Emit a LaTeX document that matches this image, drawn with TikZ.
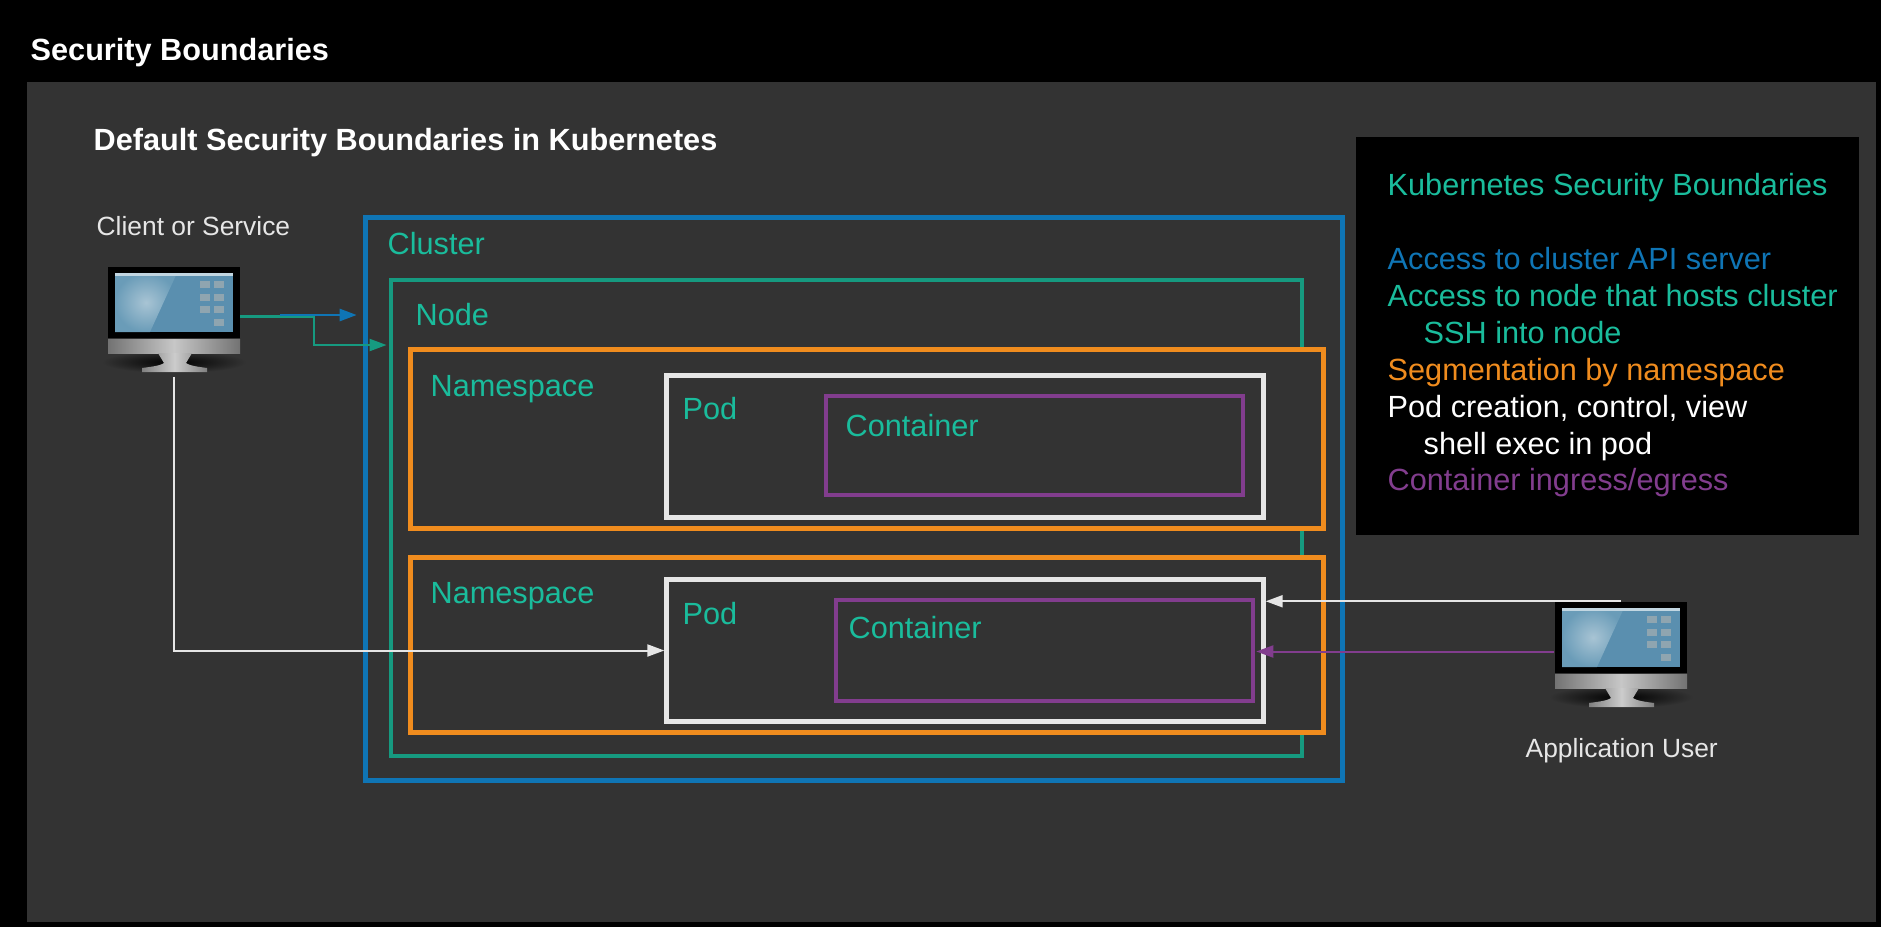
\documentclass[tikz,border=0pt]{standalone}
\usepackage{fontspec}
\setmainfont{Liberation Sans}
\usetikzlibrary{arrows.meta}
\definecolor{panelgray}{HTML}{333333}
\definecolor{clusterblue}{HTML}{0F75B5}
\definecolor{nodeteal}{HTML}{169A80}
\definecolor{labelteal}{HTML}{1ABC9C}
\definecolor{nsorange}{HTML}{F08C1E}
\definecolor{podwhite}{HTML}{E6E6E6}
\definecolor{ctrpurple}{HTML}{823D8E}
\definecolor{screenblue}{HTML}{5A8FAF}
\definecolor{screenedge}{HTML}{6A9CB8}
\definecolor{screenlight}{HTML}{A8C4D4}
\definecolor{iconkey}{HTML}{8FA5B0}
\tikzset{
    pics/monitor/.style={code={
        \shade[inner color=black, outer color=panelgray] (66,95) ellipse [x radius=72, y radius=11];
        \fill[black] (0,0) rectangle (132,71);
        \fill[screenblue] (7,6) rectangle (125,65);
        \shade[inner color=screenlight, outer color=screenedge] (7,6) -- (69,6) -- (42,65) -- (7,65) -- cycle;
        \fill[screenlight!70!white] (7,6) rectangle (125,9);
        \foreach \ky in {14,27,39,52} {
            \fill[iconkey] (106,\ky) rectangle (116,\ky+6.5);
        }
        \foreach \ky in {14,27,39} {
            \fill[iconkey] (92,\ky) rectangle (102,\ky+6.5);
        }
        \shade[left color=black!55, right color=black!55, middle color=black!22] (0,72) rectangle (132,86);
        \shade[left color=black!50, right color=black!50, middle color=black!20] (50,86) -- (84,86) -- (78,96) .. controls (82,99) and (92,100) .. (99,101) -- (99,105) -- (34,105) -- (34,101) .. controls (41,100) and (52,99) .. (56,96) -- cycle;
    }},
    boxnode/.style={rectangle, inner sep=0pt, line width=0.05cm},
    thinbox/.style={boxnode, line width=0.043cm},
    boxlabel/.style={anchor=base west, inner sep=0pt, text=labelteal, font=\fontsize{8.72}{10.5}\selectfont},
    whitelabel/.style={boxlabel, text=podwhite, font=\fontsize{7.5}{9}\selectfont},
    boldlabel/.style={anchor=base west, inner sep=0pt, text=white, font=\fontsize{8.72}{10.5}\selectfont\bfseries},
    hostnode/.style={rectangle, inner sep=0pt, minimum width=1.31cm},
    >={Triangle[length=0.17cm,width=0.12cm]},
}
\begin{document}
\begin{tikzpicture}[x=0.01cm,y=-0.01cm]
    \useasboundingbox (0,0) rectangle (1881,927);
    \fill[black] (0,0) rectangle (1881,927);
    \fill[panelgray] (27,82) rectangle (1876,922);

    % Titles
    \node[boldlabel] (pagetitle) at (30,60) {Security Boundaries};
    \node[boldlabel] (paneltitle) at (93,150) {Default Security Boundaries in Kubernetes};

    % Boxes
    \node[boxnode, draw=clusterblue, minimum width=9.76cm, minimum height=5.62cm] (cluster) at (854,499) {};
    \node[thinbox, draw=nodeteal, minimum width=9.11cm, minimum height=4.76cm] (nodebox) at (846.5,518) {};
    \node[boxnode, draw=nsorange, fill=panelgray, minimum width=9.12cm, minimum height=1.78cm] (ns1) at (867,439) {};
    \node[boxnode, draw=nsorange, fill=panelgray, minimum width=9.12cm, minimum height=1.74cm] (ns2) at (867,645) {};
    \node[boxnode, draw=podwhite, minimum width=5.96cm, minimum height=1.41cm] (pod1) at (965,446.5) {};
    \node[boxnode, draw=podwhite, minimum width=5.96cm, minimum height=1.41cm] (pod2) at (965,650.5) {};
    \node[thinbox, draw=ctrpurple, minimum width=4.17cm, minimum height=0.99cm] (ctr1) at (1034.5,445.5) {};
    \node[thinbox, draw=ctrpurple, minimum width=4.17cm, minimum height=1.01cm] (ctr2) at (1044.5,650.5) {};

    % Box labels
    \node[boxlabel] (clusterlabel) at (387,254) {Cluster};
    \node[boxlabel] (nodelabel) at (415,325) {Node};
    \node[boxlabel] (ns1label) at (430,396) {Namespace};
    \node[boxlabel] (ns2label) at (430,603) {Namespace};
    \node[boxlabel] (pod1label) at (682,419) {Pod};
    \node[boxlabel] (pod2label) at (682,624) {Pod};
    \node[boxlabel] (ctr1label) at (845,436) {Container};
    \node[boxlabel] (ctr2label) at (848,638) {Container};

    % Legend
    \fill[black] (1356,137) rectangle (1859,535);
    \node[boxlabel] (legtitle) at (1387,195) {Kubernetes Security Boundaries};
    \node[boxlabel, text=clusterblue] (legapi) at (1387,269) {Access to cluster API server};
    \node[boxlabel] (leghost) at (1387,306) {Access to node that hosts cluster};
    \node[boxlabel] (legssh) at (1423,343) {SSH into node};
    \node[boxlabel, text=nsorange] (legns) at (1387,380) {Segmentation by namespace};
    \node[boxlabel, text=white] (legpod) at (1387,417) {Pod creation, control, view};
    \node[boxlabel, text=white] (legshell) at (1423,454) {shell exec in pod};
    \node[boxlabel, text=ctrpurple] (legctr) at (1387,490) {Container ingress/egress};

    % Client and user
    \pic at (108,267) {monitor};
    \pic at (1555,602) {monitor};
    \node[hostnode, minimum height=0.99cm] (client) at (174,316.5) {};
    \node[hostnode, minimum height=0.99cm] (appuser) at (1620.5,651.5) {};
    \node[whitelabel] (clientlabel) at (96,235) {Client or Service};
    \node[whitelabel] (userlabel) at (1525,757) {Application User};

    % Client talks to node and cluster
    \coordinate (tealbend) at (314,345);
    \coordinate (bluestart) at (280,315);
    \draw[->, nodeteal, line width=0.022cm, shorten >=0.02cm] (client.east) -| (tealbend) -- (tealbend -| nodebox.west);
    \draw[->, clusterblue, line width=0.025cm, shorten >=0.065cm] (bluestart) -- (bluestart -| cluster.west);
    \draw[->, podwhite, line width=0.02cm, shorten <=0.1cm] (client.south) |- (pod2.west);

    % User talks to pod and container
    \draw[->, podwhite, line width=0.02cm] (appuser.north) -- (appuser.north -| pod2.east);
    \draw[->, ctrpurple, line width=0.02cm, shorten >=0.01cm] (appuser.west) -- (appuser.west -| ctr2.east);
\end{tikzpicture}
\end{document}
